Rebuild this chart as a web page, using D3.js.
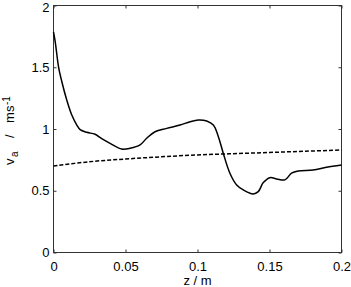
<!DOCTYPE html>
<html>
<head>
<meta charset="utf-8">
<script src="https://cdn.jsdelivr.net/npm/d3@7"></script>
<style>
  body { margin: 0; background: #fff; }
  svg { display: block; font-family: "Liberation Sans", Arial, sans-serif; }
</style>
</head>
<body>
<svg id="chart" width="351" height="287"></svg>
<script>
// solid curve
const zSolid = [0, 0.0012, 0.0035, 0.0058, 0.0092, 0.0127, 0.0162, 0.0185, 0.0231, 0.0289,
    0.0335, 0.0393, 0.0474, 0.0532, 0.0601, 0.0647, 0.0705, 0.0786, 0.0879, 0.0948,
    0.1006, 0.1064, 0.111, 0.1145, 0.1179, 0.1225, 0.1272, 0.1318, 0.1387, 0.1422,
    0.1457, 0.1503, 0.155, 0.1607, 0.1653, 0.1699, 0.1803, 0.1896, 0.2];
const vSolid = [1.787, 1.706, 1.504, 1.383, 1.235, 1.113, 1.032, 0.995, 0.973, 0.957,
    0.922, 0.884, 0.838, 0.844, 0.871, 0.925, 0.978, 1.005, 1.032, 1.059,
    1.073, 1.065, 1.032, 0.938, 0.803, 0.642, 0.547, 0.507, 0.474, 0.493,
    0.566, 0.606, 0.596, 0.588, 0.642, 0.660, 0.668, 0.690, 0.709];

// dashed curve
const zDashed = [0, 0.025, 0.05, 0.075, 0.1, 0.125, 0.15, 0.175, 0.2];
const vDashed = [0.70, 0.735, 0.757, 0.775, 0.790, 0.800, 0.810, 0.820, 0.830];

const xTicks = [0, 0.05, 0.1, 0.15, 0.2];
const yTicks = [0, 0.5, 1, 1.5, 2];

const svg = d3.select("svg#chart");

const area = { left: 53.5, right: 341.5, top: 5.5, bottom: 252.5 };

const scX = d3.scaleLinear().domain([0, 0.2]).range([area.left, area.right]);
const scY = d3.scaleLinear().domain([0, 2]).range([area.bottom, area.top]);

const axisColor = "#333";
const tickLen = 3;

// frame
svg.append("rect")
    .attr("x", area.left)
    .attr("y", area.top)
    .attr("width", area.right - area.left)
    .attr("height", area.bottom - area.top)
    .style("fill", "none")
    .style("stroke", axisColor)
    .style("stroke-width", 1);

// ticks pointing inward, on all four sides
function styleAxis(g) {
    g.select(".domain").remove();
    g.selectAll(".tick line").attr("stroke", axisColor);
    g.selectAll(".tick text")
        .attr("fill", "#000")
        .style("font-size", "13px");
}

svg.append("g")
    .attr("transform", `translate(0, ${area.bottom})`)
    .call(d3.axisBottom(scX).tickValues(xTicks).tickSizeInner(-tickLen).tickSizeOuter(0)
        .tickFormat(d3.format("")))
    .call(styleAxis)
    .selectAll(".tick text").attr("y", 9);

svg.append("g")
    .attr("transform", `translate(0, ${area.top})`)
    .call(d3.axisTop(scX).tickValues(xTicks).tickSizeInner(-tickLen).tickSizeOuter(0)
        .tickFormat(""))
    .call(styleAxis);

svg.append("g")
    .attr("transform", `translate(${area.left}, 0)`)
    .call(d3.axisLeft(scY).tickValues(yTicks).tickSizeInner(-tickLen).tickSizeOuter(0)
        .tickFormat(d3.format("")))
    .call(styleAxis)
    .selectAll(".tick text")
    .attr("x", -4)
    .attr("dy", d => d === 2 ? "0.45em" : "0.32em");

svg.append("g")
    .attr("transform", `translate(${area.right}, 0)`)
    .call(d3.axisRight(scY).tickValues(yTicks).tickSizeInner(-tickLen).tickSizeOuter(0)
        .tickFormat(""))
    .call(styleAxis);

// curves
const solidData = zSolid.map((z, i) => ({ z: z, v: vSolid[i] }));
const dashedData = zDashed.map((z, i) => ({ z: z, v: vDashed[i] }));

const line = d3.line()
    .x(d => scX(d.z))
    .y(d => scY(d.v))
    .curve(d3.curveCatmullRom.alpha(0.5));

svg.append("path")
    .datum(dashedData)
    .attr("d", line)
    .style("fill", "none")
    .style("stroke", "#000")
    .style("stroke-width", 1.5)
    .style("stroke-dasharray", "4,2");

svg.append("path")
    .datum(solidData)
    .attr("d", line)
    .style("fill", "none")
    .style("stroke", "#000")
    .style("stroke-width", 1.5);

// axis labels
svg.append("text")
    .attr("x", scX(0.1))
    .attr("y", 285)
    .attr("text-anchor", "middle")
    .style("font-size", "13px")
    .text("z / m");

const yLab = svg.append("text")
    .attr("transform", "translate(14, 165) rotate(-90)")
    .style("font-size", "13px");
yLab.append("tspan").attr("x", 0).text("v");
yLab.append("tspan").attr("x", 8).attr("dy", 4).style("font-size", "10px").text("a");
yLab.append("tspan").attr("x", 27).attr("dy", -4).text("/");
yLab.append("tspan").attr("x", 42).text("m");
yLab.append("tspan").attr("x", 53).text("s");
yLab.append("tspan").attr("x", 60).attr("dy", -4).style("font-size", "10px").text("-1");
</script>
</body>
</html>
